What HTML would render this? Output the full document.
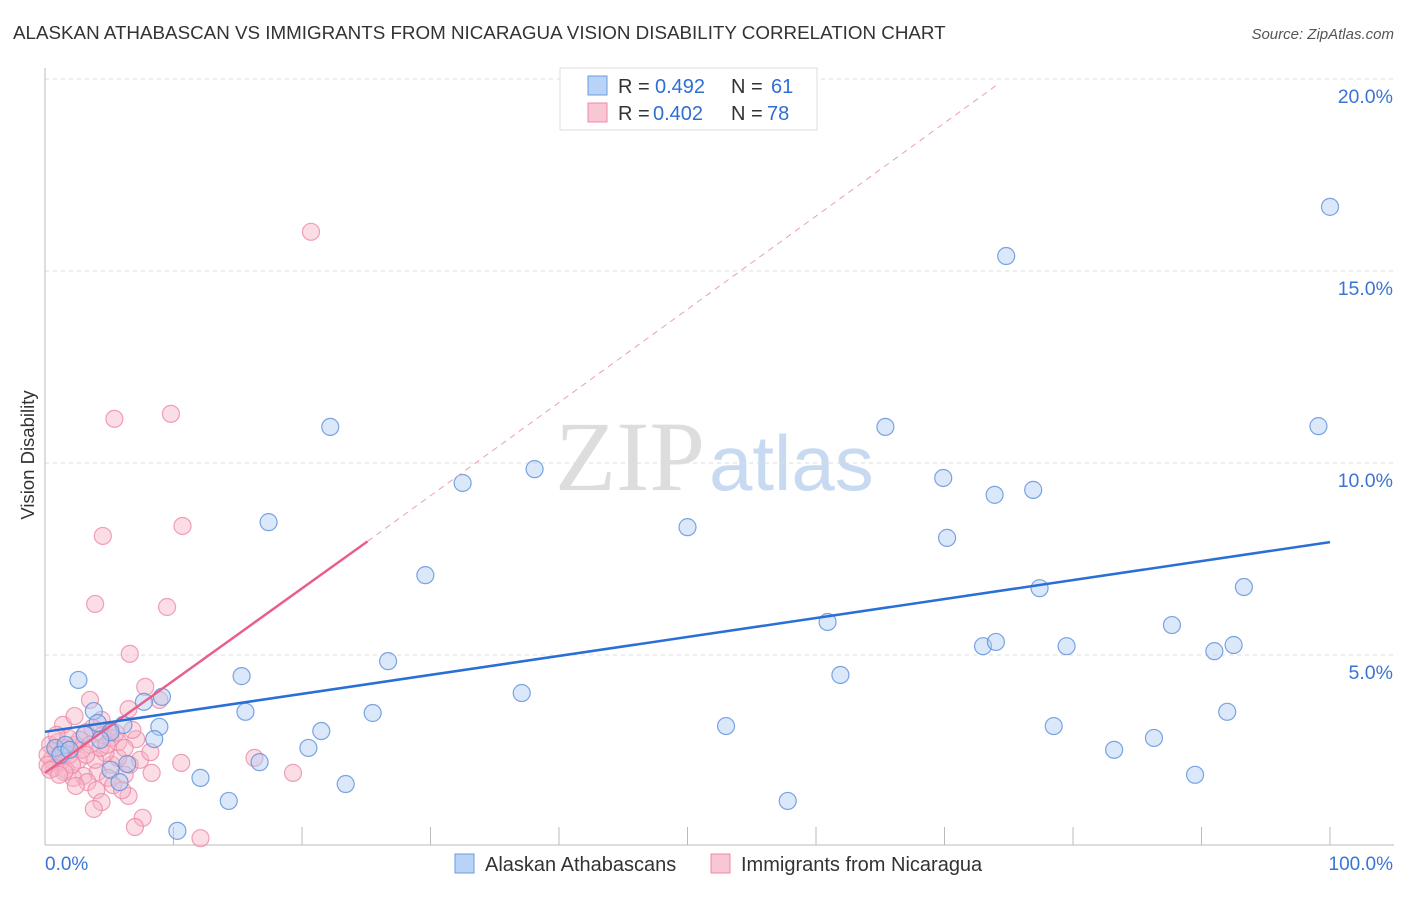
<!DOCTYPE html>
<html><head><meta charset="utf-8"><style>
body{margin:0;background:#fff;font-family:"Liberation Sans",sans-serif}
svg text{font-family:"Liberation Sans",sans-serif}
</style></head><body>
<svg id="chart" width="1406" height="892" xmlns="http://www.w3.org/2000/svg">
<text x="13" y="39" font-size="18.8" fill="#333">ALASKAN ATHABASCAN VS IMMIGRANTS FROM NICARAGUA VISION DISABILITY CORRELATION CHART</text>
<text x="1394" y="39" font-size="15" fill="#555" text-anchor="end" font-style="italic">Source: ZipAtlas.com</text>
<text x="555" y="490" font-size="100"><tspan fill="#ddd" font-family="Liberation Serif">ZIP</tspan><tspan fill="#c8daf2" font-size="78" dx="4">atlas</tspan></text>
<g id="grid"></g><g id="axes"></g><g id="marks"></g>
<text transform="translate(34,455) rotate(-90)" font-size="18.5" fill="#333" text-anchor="middle">Vision Disability</text>
<g>
<rect x="560" y="68" width="257" height="62" fill="#fff" stroke="#ddd"/>
<rect x="588" y="76" width="19" height="19" fill="#b8d3f5" stroke="#6a9be0"/>
<rect x="588" y="103" width="19" height="19" fill="#f9c6d4" stroke="#ec8aa8"/>
<text x="618" y="93" font-size="20" fill="#333">R =</text><text x="655" y="93" font-size="20" fill="#2f6fd3">0.492</text>
<text x="731" y="93" font-size="20" fill="#333">N =</text><text x="771" y="93" font-size="20" fill="#2f6fd3">61</text>
<text x="618" y="120" font-size="20" fill="#333">R =</text><text x="653" y="120" font-size="20" fill="#2f6fd3">0.402</text>
<text x="731" y="120" font-size="20" fill="#333">N =</text><text x="767" y="120" font-size="20" fill="#2f6fd3">78</text>
</g>
<g>
<rect x="455" y="854" width="19" height="19" fill="#b8d3f5" stroke="#6a9be0"/>
<text x="485" y="871" font-size="20" fill="#333">Alaskan Athabascans</text>
<rect x="711" y="854" width="19" height="19" fill="#f9c6d4" stroke="#ec8aa8"/>
<text x="741" y="871" font-size="20" fill="#333">Immigrants from Nicaragua</text>
</g>
</svg>
<script>
const yTicks=[5,10,15,20];
const yTickLabels=["5.0%","10.0%","15.0%","20.0%"];
const xLabels=["0.0%","100.0%"];
const blueX=[100,74.8,22.2,65.4,99.1,38.1,32.5,69.9,73.9,76.9,17.4,50.0,70.2,29.6,77.4,93.3,60.9,87.7,73.0,74.0,79.5,91.0,92.5,26.7,61.9,15.3,2.6,37.1,9.1,7.7,3.8,15.6,25.5,92.0,53.0,78.5,4.1,6.1,8.9,21.5,8.5,86.3,5.1,20.5,83.2,16.7,6.4,5.1,12.1,89.5,23.4,5.8,14.3,57.8,10.3,0.8,1.6,3.1,4.3,1.2,1.9];
const blueY=[16.67,15.39,10.94,10.94,10.96,9.84,9.48,9.61,9.17,9.30,8.46,8.33,8.05,7.08,6.74,6.77,5.86,5.78,5.23,5.34,5.23,5.10,5.26,4.84,4.48,4.45,4.35,4.01,3.91,3.78,3.54,3.52,3.49,3.52,3.15,3.15,3.23,3.18,3.13,3.02,2.81,2.84,2.99,2.58,2.53,2.21,2.16,2.01,1.80,1.88,1.64,1.69,1.20,1.20,0.42,2.58,2.66,2.92,2.79,2.40,2.53];
const pinkX=[20.7,5.4,9.8,10.7,4.5,3.9,9.5,6.6,7.8,3.5,8.9,6.5,1.4,2.3,4.4,7.1,5.1,3.2,16.3,10.6,19.3,8.3,6.6,5.2,6.2,4.1,3.0,2.2,3.3,4.9,4.0,4.4,3.8,6.5,7.6,7.0,12.1,5.7,4.7,2.6,1.2,0.8,0.4,0.5,1.0,1.6,1.9,2.3,2.7,1.8,1.3,0.2,0.7,1.6,2.1,2.9,3.5,3.9,4.3,5.1,5.7,6.2,7.4,5.3,6.0,2.4,1.5,0.9,3.2,3.7,4.5,4.8,5.5,6.8,8.2,0.2,0.4,1.1];
const pinkY=[16.02,11.15,11.28,8.36,8.10,6.33,6.25,5.03,4.17,3.83,3.83,3.59,3.18,3.41,3.31,2.81,3.05,2.99,2.32,2.19,1.93,1.93,2.14,2.14,1.88,1.95,1.85,1.80,1.69,1.80,1.48,1.17,0.99,1.33,0.76,0.52,0.23,2.32,2.45,2.27,2.21,2.53,2.66,2.27,2.73,2.58,2.40,2.66,2.79,2.84,2.47,2.40,2.06,2.01,2.14,2.53,2.66,2.27,2.58,2.84,2.73,2.58,2.27,1.61,1.48,1.59,1.95,2.92,2.40,3.10,2.92,2.66,2.97,3.05,2.47,2.14,2.01,1.88];
const blueTrend=[[0,3.0],[100,7.94]];
const pinkTrend=[[0,1.93],[25.1,7.96]];
const pinkDash=[[25.1,7.96],[74.3,19.9]];
const NS="http://www.w3.org/2000/svg";
const sx=v=>45+v*12.85, sy=v=>847-v*38.4;
function mk(tag,attrs,parent){const e=document.createElementNS(NS,tag);for(const k in attrs)e.setAttribute(k,attrs[k]);document.getElementById(parent).appendChild(e);return e;}
yTicks.forEach((t,i)=>{
 const l=mk('line',{x1:45,x2:1394,y1:sy(t),y2:sy(t),stroke:'#ddd','stroke-dasharray':'4,4'},'grid');
 
 
 const tx=mk('text',{x:1393,y:sy(t)+24,'font-size':19.5,fill:'#3a75d4','text-anchor':'end'},'grid');
 tx.textContent=yTickLabels[i];
 
 
});
const ax=mk('line',{x1:45,x2:45,y1:68,y2:845,stroke:'#bbb'},'axes');


const bx=mk('line',{x1:45,x2:1394,y1:845,y2:845,stroke:'#bbb'},'axes');


for(let i=1;i<=10;i++){const t=mk('line',{x1:sx(i*10),x2:sx(i*10),y1:827,y2:845,stroke:'#bbb'},'axes');
 
 }
[[0,'start',45],[1,'end',1393]].forEach(([i,a,x])=>{const t=mk('text',{x:x,y:870,'font-size':19,fill:'#3a75d4','text-anchor':a},'axes');t.textContent=xLabels[i];
 
 });
function pts(X,Y,fill,stroke,name){X.forEach((x,i)=>{const c=mk('circle',{cx:sx(x),cy:sy(Y[i]),r:8.5,fill:fill,'fill-opacity':0.45,stroke:stroke,'stroke-width':1.2,'stroke-opacity':0.8},'marks');
 
 });}
pts(pinkX,pinkY,'#f6b3c6','#ec8aa8','nicaragua-point');
pts(blueX,blueY,'#b0cdf2','#5b8fdc','athabascan-point');
function line(p,stroke,w,dash,name){const l=mk('line',{x1:sx(p[0][0]),y1:sy(p[0][1]),x2:sx(p[1][0]),y2:sy(p[1][1]),stroke:stroke,'stroke-width':w},'marks');if(dash)l.setAttribute('stroke-dasharray',dash);
 
 }
line(pinkDash,'#e8a0b6',1,'6,5','nicaragua-trend-extension');
line(pinkTrend,'#e8608a',2.5,null,'nicaragua-trend-line');
line(blueTrend,'#2a6fd6',2.5,null,'athabascan-trend-line');
</script>
</body></html>
